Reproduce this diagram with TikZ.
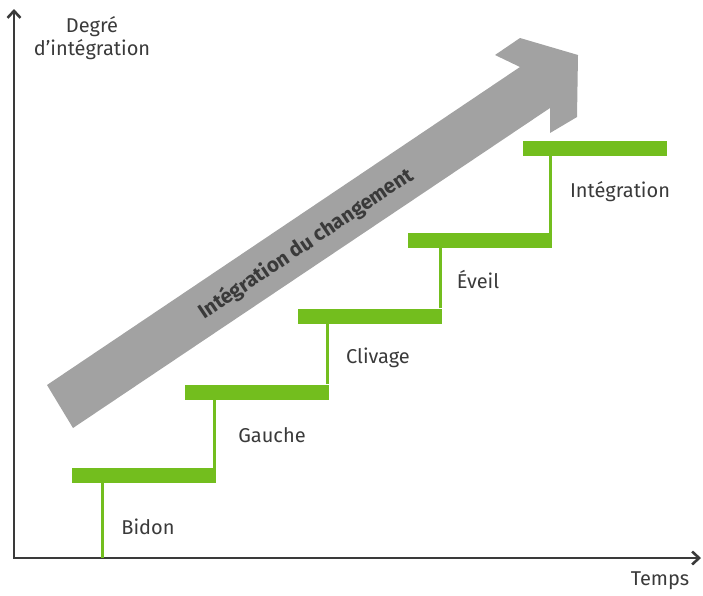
\documentclass[tikz,border=0pt]{standalone}
\usepackage{fontspec}
\setmainfont{Fira Sans}
\usetikzlibrary{arrows.meta}

\definecolor{stepgreen}{RGB}{115,190,30}
\definecolor{arrowgray}{RGB}{162,162,162}
\definecolor{inkgray}{RGB}{58,58,58}

\tikzset{
    axis/.style={line width=2.6pt, draw=inkgray, {Straight Barb[length=7pt,width=13pt]}-{Straight Barb[length=7pt,width=13pt]}},
    stepbar/.style={fill=stepgreen, draw=none, inner sep=0pt, minimum width=144pt, minimum height=15pt},
    riser/.style={line width=3pt, draw=stepgreen},
    lbl/.style={text=inkgray, font=\fontsize{20}{23}\selectfont},
}

\begin{document}
\begin{tikzpicture}[x=1pt, y=-1pt]
        \useasboundingbox (0,0) rectangle (703,595);

        % axes
        \coordinate (ytop) at (14,9);
        \coordinate (O) at (14,558);
        \coordinate (xend) at (701,558);
        \draw[axis] (ytop) -- (O) -- (xend);

        \node[lbl, align=center] (ylabel) at (92,38) {Degré\\d'intégration};
        \node[lbl] (xlabel) at (660,581) {Temps};

        % big gray arrow
        \fill[arrowgray] (47,385) -- (520,67) -- (495,55) -- (520,38) -- (578,55)
                -- (577,117) -- (550,133) -- (550,108) -- (73,428) -- cycle;
        \node[lbl, font=\bfseries\fontsize{20.5}{24}\selectfont, rotate=33.9] (change) at (306,244) {Intégration du changement};

        % steps
        \node[stepbar] (b1) at (144,475.5) {};
        \node[stepbar] (b2) at (257,392) {};
        \node[stepbar] (b3) at (370,316) {};
        \node[stepbar] (b4) at (479.5,240.5) {};
        \node[stepbar] (b5) at (595,148.5) {};

        \coordinate (r0) at (102,558);
        \draw[riser] (r0) -- (r0 |- b1.south);
        \draw[riser] ([xshift=-1.5pt]b1.north east) -- ([xshift=-1.5pt]b1.north east |- b2.south);
        \draw[riser] ([xshift=-1.5pt]b2.north east) -- ([xshift=-1.5pt]b2.north east |- b3.south);
        \draw[riser] ([xshift=-1.5pt]b3.north east) -- ([xshift=-1.5pt]b3.north east |- b4.south);
        \draw[riser] ([xshift=-1.5pt]b4.north east) -- ([xshift=-1.5pt]b4.north east |- b5.south);

        \node[lbl] (bidon) at (148,527) {Bidon};
        \node[lbl] (gauche) at (272,435) {Gauche};
        \node[lbl] (clivage) at (378,358) {Clivage};
        \node[lbl] (eveil) at (478,280) {Éveil};
        \node[lbl] (integ) at (620,192) {Intégration};

\end{tikzpicture}
\end{document}
